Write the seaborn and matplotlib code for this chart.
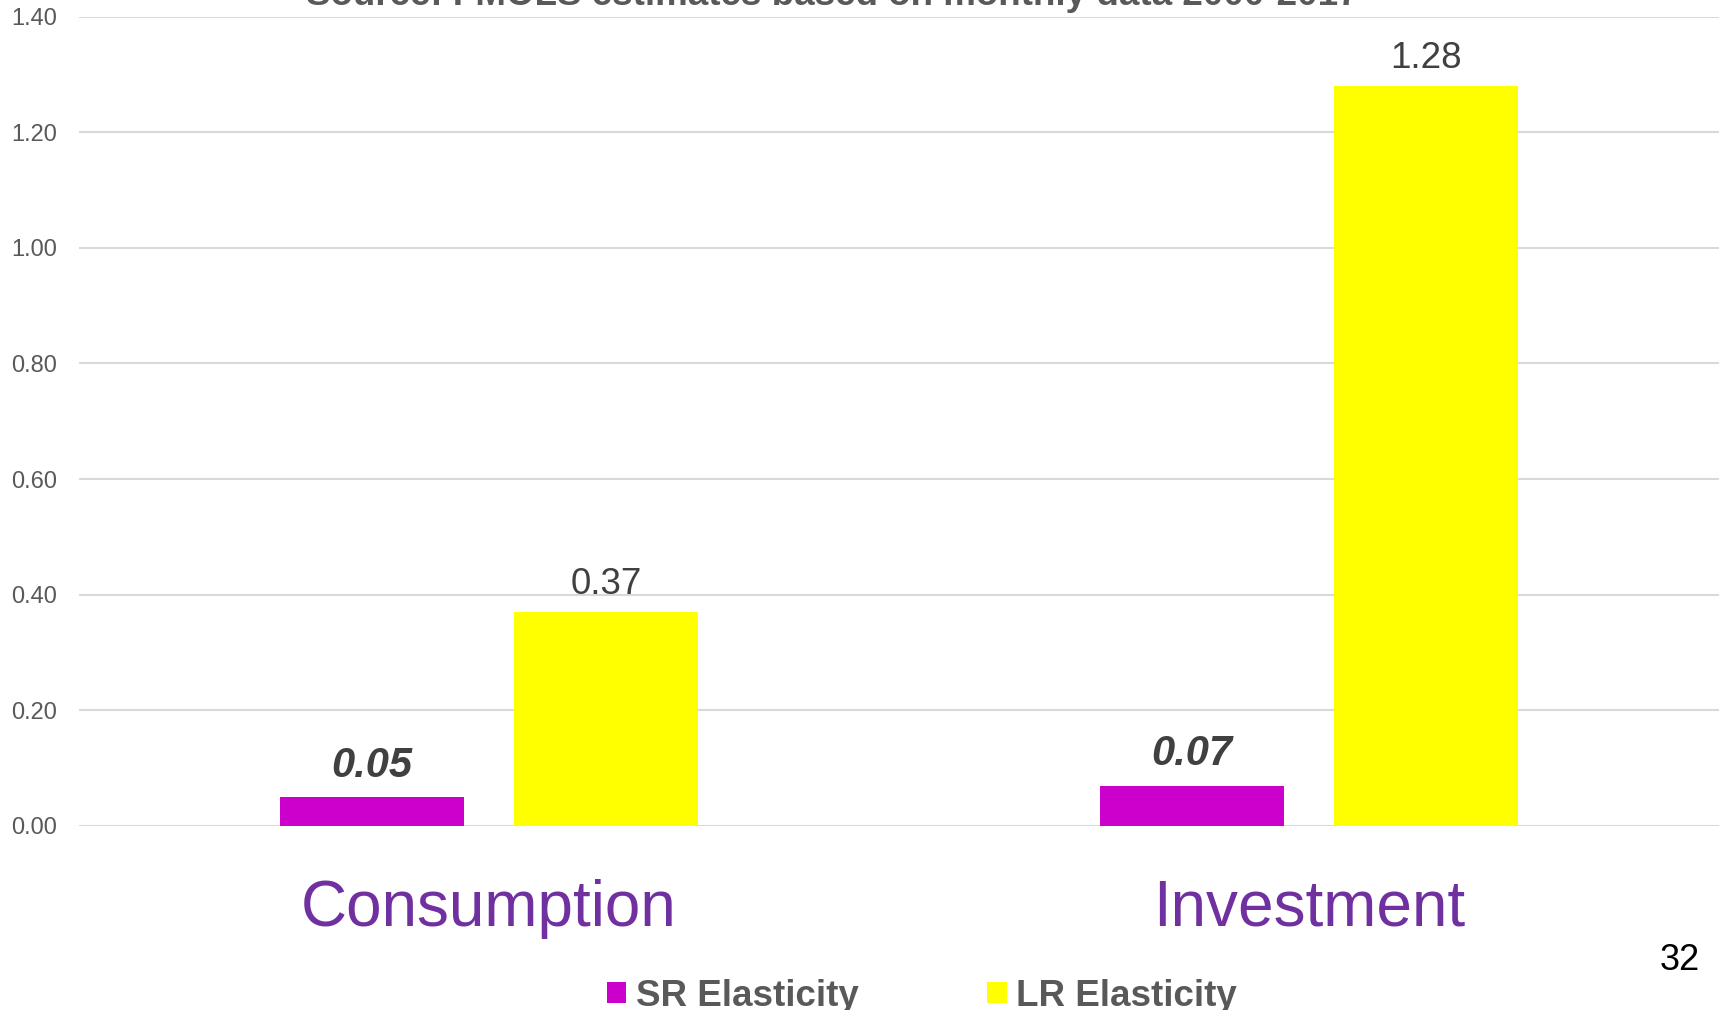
import matplotlib
matplotlib.use("Agg")
import matplotlib.pyplot as plt
from matplotlib.patches import Patch
import seaborn as sns
import pandas as pd

# Elasticity estimates per demand component
categories = ["Consumption", "Investment"]
series = ["SR Elasticity", "LR Elasticity"]
sr_values = [0.05, 0.07]
lr_values = [0.37, 1.28]
y_ticks = [0.0, 0.2, 0.4, 0.6, 0.8, 1.0, 1.2, 1.4]
series_colors = ["#CC00CC", "#FFFF00"]

source_note = "Source: FMOLS estimates based on monthly data 2000-2017"
page_number = "32"

df = pd.DataFrame({
    "category": categories * 2,
    "series": [series[0]] * len(categories) + [series[1]] * len(categories),
    "value": sr_values + lr_values,
})

sns.set_theme(style="white")
plt.rcParams["font.family"] = ["Liberation Sans", "DejaVu Sans"]

W, H = 1725, 1010
fig = plt.figure(figsize=(W / 100, H / 100), dpi=100)
ax = fig.add_axes([79 / W, 184 / H, 1640 / W, 809.5 / H])

sns.barplot(
    data=df, x="category", y="value", hue="series",
    order=categories, hue_order=series, palette=series_colors,
    width=0.57, gap=0.213, saturation=1, linewidth=0, ax=ax,
)
if ax.get_legend() is not None:
    ax.get_legend().remove()

ax.set_ylim(0, 1.4)
ax.set_yticks(y_ticks)
ax.set_yticklabels([f"{t:.2f}" for t in y_ticks])
ax.set_xlabel("")
ax.set_ylabel("")
ax.yaxis.grid(True, color="#D9D9D9", linewidth=1.5)
ax.xaxis.grid(False)
ax.set_axisbelow(True)
sns.despine(ax=ax, left=True, bottom=True)

ax.tick_params(axis="y", length=0, pad=16, labelsize=17, labelcolor="#595959")
ax.tick_params(axis="x", length=0, pad=38, labelsize=46, labelcolor="#7030A0")

# Value labels: short-run in bold italic, long-run in regular weight
sr_container, lr_container = ax.containers[0], ax.containers[1]
ax.bar_label(sr_container, labels=[f"{v:.2f}" for v in sr_values], padding=8,
             fontsize=30, fontweight="bold", fontstyle="italic", color="#404040")
ax.bar_label(lr_container, labels=[f"{v:.2f}" for v in lr_values], padding=7,
             fontsize=26.5, color="#404040")

handles = [Patch(facecolor=c, edgecolor="none") for c in series_colors]
fig.legend(
    handles, series, loc="center", bbox_to_anchor=(922 / W, 1 - 996 / H),
    ncol=2, frameon=False, prop=dict(weight="bold", size=26.5),
    labelcolor="#595959", handlelength=0.52, handleheight=0.52,
    handletextpad=0.27, columnspacing=3.5, borderpad=0, borderaxespad=0,
)

fig.text(832 / W, 1 - 5 / H, source_note, ha="center", va="baseline",
         fontsize=26.5, fontweight="bold", color="#595959")
fig.text(1680 / W, 1 - 960 / H, page_number, ha="center", va="center",
         fontsize=26, color="black")

fig.savefig("out.png", dpi=100)
